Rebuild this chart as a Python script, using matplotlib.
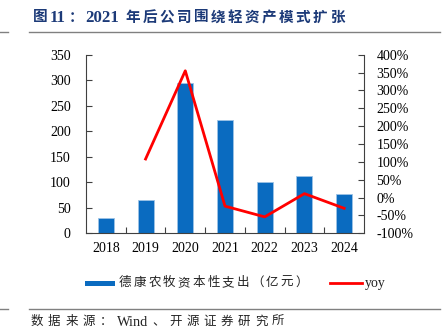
import matplotlib
matplotlib.use("Agg")
import matplotlib.pyplot as plt
from matplotlib.lines import Line2D
from matplotlib.patches import Rectangle
from matplotlib.ticker import FuncFormatter, MultipleLocator

plt.rcParams["font.family"] = ["Liberation Serif", "Noto Sans CJK SC"]

years = ["2018", "2019", "2020", "2021", "2022", "2023", "2024"]
capex = [30, 64.6, 294, 223, 100.5, 111.6, 77.7]
yoy_years = ["2019", "2020", "2021", "2022", "2023", "2024"]
yoy = [108, 355, -24, -54, 11, -30]

title = "图11：2021 年后公司围绕轻资产模式扩张"
source = "数据来源：Wind、开源证券研究所"
bar_label = "德康农牧资本性支出（亿元）"
line_label = "yoy"

bar_color = "#0A6BC0"
line_color = "#FF0000"
axis_color = "#404040"

W, H = 444, 335
fig = plt.figure(figsize=(W / 100, H / 100), dpi=100)
renderer = fig.canvas.get_renderer()


def spaced_text(x_px, y_px, s, gap_px, latin_scale=1.0, **kw):
    # CJK characters drawn one by one with extra spacing, latin runs kept together
    tokens, run = [], ""
    for ch in s:
        if ch.isascii() and ch != " ":
            run += ch
        else:
            if run:
                tokens.append(run)
                run = ""
            tokens.append(ch)
    if run:
        tokens.append(run)
    x = x_px
    for tok in tokens:
        if tok == " ":
            x += 4
            continue
        opts = dict(kw)
        if tok.isascii():
            opts["fontsize"] = kw["fontsize"] * latin_scale
        t = fig.text(x / W, 1 - y_px / H, tok, va="center", ha="left", **opts)
        bb = t.get_window_extent(renderer)
        x += bb.width + gap_px
    return x


ax = fig.add_axes([86 / W, 1 - 233.3 / H, (364 - 86) / W, (233.3 - 54.7) / H])
ax2 = ax.twinx()

x = list(range(len(years)))
ax.bar(x, capex, width=0.4, color=bar_color, edgecolor="#9CC3E6", linewidth=0.6, zorder=2)
x_yoy = [years.index(y) for y in yoy_years]
ax2.plot(x_yoy, yoy, color=line_color, linewidth=2, zorder=3)

ax.set_xlim(-0.5, len(years) - 0.5)
ax.set_ylim(0, 350)
ax.yaxis.set_major_locator(MultipleLocator(50))
ax2.set_ylim(-100, 400)
ax2.yaxis.set_major_locator(MultipleLocator(50))
ax2.yaxis.set_major_formatter(FuncFormatter(lambda v, p: f"{v:.0f}%"))

ax.set_xticks([i + 0.5 for i in x[:-1]], minor=False)
ax.set_xticklabels([])
ax.set_xticks(x, minor=True)
ax.set_xticklabels(years, minor=True)
ax.tick_params(axis="x", which="major", direction="in", length=4, width=0.8, color=axis_color)
ax.tick_params(axis="x", which="minor", length=0, pad=6.5, labelsize=10)
ax.tick_params(axis="y", direction="in", length=4, width=0.8, color=axis_color, pad=11, labelsize=10)
ax2.tick_params(axis="y", direction="in", length=4, width=0.8, color=axis_color, pad=9, labelsize=10)

for a in (ax, ax2):
    a.spines["top"].set_visible(False)
    for s in ("left", "right", "bottom"):
        a.spines[s].set_color(axis_color)
        a.spines[s].set_linewidth(0.8)
ax.spines["right"].set_visible(False)
ax2.spines["left"].set_visible(False)
ax2.spines["bottom"].set_visible(False)

# legend drawn by hand to get the wide character spacing
fig.add_artist(Rectangle((85 / W, 1 - 285.5 / H), 30 / W, 5 / H, transform=fig.transFigure,
                         facecolor=bar_color, edgecolor="none"))
spaced_text(119, 283, bar_label, 2.2, fontsize=9, color="#222222")
fig.add_artist(Line2D([330 / W, 362 / W], [1 - 283 / H, 1 - 283 / H], color=line_color,
                      linewidth=2, transform=fig.transFigure))
spaced_text(365, 284, line_label, 0, fontsize=10, color="#222222")

spaced_text(33, 18, title, 2.4, latin_scale=1.15, fontsize=10.5, fontweight="bold",
            color="#1C3A78")
spaced_text(31, 322, source, 4.6, latin_scale=1.15, fontsize=9, color="#222222")

for yy in (32, 309):
    yf = 1 - yy / H
    fig.add_artist(Line2D([0, 8 / W], [yf, yf], color="#808080", linewidth=1))
    fig.add_artist(Line2D([29 / W, 440 / W], [yf, yf], color="#808080", linewidth=1))

fig.savefig("out.png", dpi=100)
